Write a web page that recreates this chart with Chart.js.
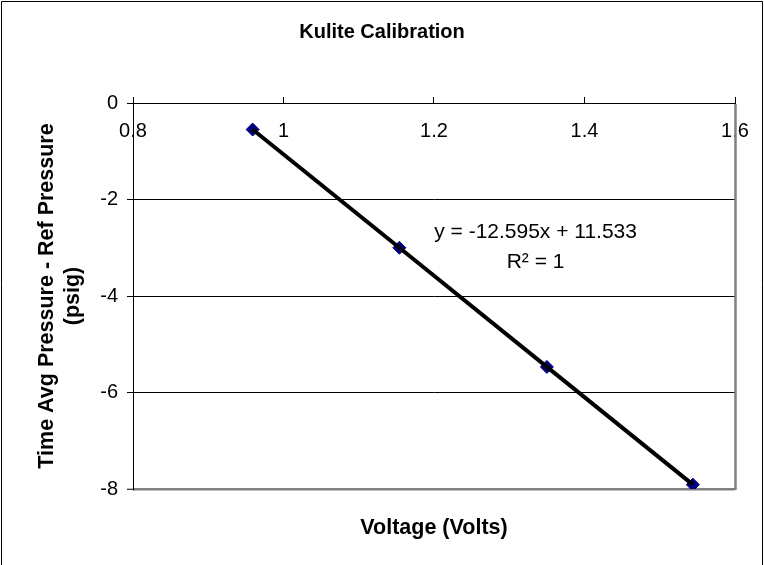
<!DOCTYPE html>
<html>
<head>
<meta charset="utf-8">
<script src="https://cdn.jsdelivr.net/npm/chart.js@4/dist/chart.umd.min.js"></script>
<style>
  body { margin: 0; background: #fff; }
  canvas { display: block; }
</style>
</head>
<body>
<canvas id="kuliteChart" width="764" height="565"></canvas>
<script>
// data
const voltage = [0.959, 1.154, 1.350, 1.544];
const pressure = [-0.55, -3.00, -5.47, -7.91];

const xTickValues = [0.8, 1.0, 1.2, 1.4, 1.6];
const xTickLabels = ['0.8', '1', '1.2', '1.4', '1.6'];
const yTickValues = [0, -2, -4, -6, -8];
const yTickLabels = ['0', '-2', '-4', '-6', '-8'];

const chartTitle = 'Kulite Calibration';
const xTitle = 'Voltage (Volts)';
const yTitle = ['Time Avg Pressure - Ref Pressure', '(psig)'];
const trendText = ['y = -12.595x + 11.533', 'R\u00B2 = 1'];

const FONT = '"Liberation Sans", Arial, sans-serif';

function labelFor(values, labels, v) {
    const i = values.findIndex(t => Math.abs(t - v) < 1e-6);
    return i >= 0 ? labels[i] : '';
}

const points = voltage.map((v, i) => ({ x: v, y: pressure[i] }));

// frame, plot border and trendline label
const decor = {
    id: 'decor',
    beforeDraw(chart) {
        const c = chart.ctx;
        c.save();
        c.fillStyle = '#fff';
        c.fillRect(0, 0, chart.width, chart.height);
        c.strokeStyle = '#000';
        c.lineWidth = 1;
        c.beginPath();
        c.moveTo(1.5, chart.height);
        c.lineTo(1.5, 1.5);
        c.lineTo(762.5, 1.5);
        c.lineTo(762.5, chart.height);
        c.stroke();
        c.restore();
    },
    afterDraw(chart) {
        const c = chart.ctx;
        const a = chart.chartArea;
        c.save();
        c.strokeStyle = '#808080';
        c.lineWidth = 2.5;
        c.beginPath();
        c.moveTo(a.right + 0.5, a.top + 1);
        c.lineTo(a.right + 0.5, a.bottom + 1);
        c.stroke();

        const xs = chart.scales.x, ys = chart.scales.y;
        const px = xs.getPixelForValue(1.335);
        const py = ys.getPixelForValue(-2.68);
        c.fillStyle = '#000';
        c.font = '21px ' + FONT;
        c.textAlign = 'center';
        c.textBaseline = 'middle';
        trendText.forEach((t, i) => c.fillText(t, px, py + i * 30));
        c.restore();
    }
};

const ctx = document.getElementById('kuliteChart').getContext('2d');
new Chart(ctx, {
    type: 'scatter',
    data: {
        datasets: [
            {
                // linear trendline through the points
                data: points,
                showLine: true,
                borderColor: '#000',
                borderWidth: 4,
                pointRadius: 0,
                order: 0
            },
            {
                data: points,
                pointStyle: 'rectRot',
                pointRadius: 6.5,
                backgroundColor: '#000080',
                borderColor: '#000080',
                borderWidth: 1,
                order: 1
            }
        ]
    },
    options: {
        responsive: false,
        animation: false,
        events: [],
        layout: { padding: 0 },
        plugins: {
            legend: { display: false },
            tooltip: { enabled: false },
            title: {
                display: true,
                text: chartTitle,
                color: '#000',
                font: { family: FONT, size: 20, weight: 'bold' },
                padding: { top: 20, bottom: 0 }
            }
        },
        scales: {
            x: {
                type: 'linear',
                position: 'top',
                min: 0.8,
                max: 1.6,
                ticks: {
                    stepSize: 0.2,
                    mirror: true,
                    padding: 16,
                    color: '#000',
                    font: { family: FONT, size: 20 },
                    maxRotation: 0,
                    callback: v => labelFor(xTickValues, xTickLabels, v)
                },
                grid: { drawOnChartArea: false, color: '#000', tickLength: 6 },
                border: { color: '#000', width: 1 },
                afterFit(s) {
                    s.height = 59;
                    s.paddingLeft = 0;
                    s.paddingRight = 0;
                }
            },
            x2: {
                type: 'linear',
                position: 'bottom',
                ticks: { display: false },
                grid: { display: false },
                border: { display: false },
                title: {
                    display: true,
                    text: xTitle,
                    color: '#000',
                    font: { family: FONT, size: 21.5, weight: 'bold' },
                    padding: { top: 0, bottom: 24 }
                },
                afterFit(s) { s.height = 76; }
            },
            y: {
                type: 'linear',
                min: -8,
                max: 0,
                ticks: {
                    stepSize: 2,
                    padding: 9,
                    color: '#000',
                    font: { family: FONT, size: 20 },
                    callback: v => labelFor(yTickValues, yTickLabels, v)
                },
                grid: {
                    color: c => (c.tick && c.tick.value === -8) ? '#808080' : '#000',
                    lineWidth: c => (c.tick && c.tick.value === -8) ? 2.5 : 1,
                    tickColor: '#000',
                    tickWidth: 1,
                    tickLength: 6
                },
                border: { color: '#000', width: 1 },
                title: {
                    display: true,
                    text: yTitle,
                    color: '#000',
                    font: { family: FONT, size: 21.5, weight: 'bold', lineHeight: 1.21 },
                    padding: { top: 34, bottom: 0 }
                },
                afterFit(s) { s.width = 133; }
            },
            y2: {
                type: 'linear',
                position: 'right',
                ticks: { display: false },
                grid: { display: false },
                border: { display: false },
                afterFit(s) { s.width = 29; }
            }
        }
    },
    plugins: [decor]
});
</script>
</body>
</html>
